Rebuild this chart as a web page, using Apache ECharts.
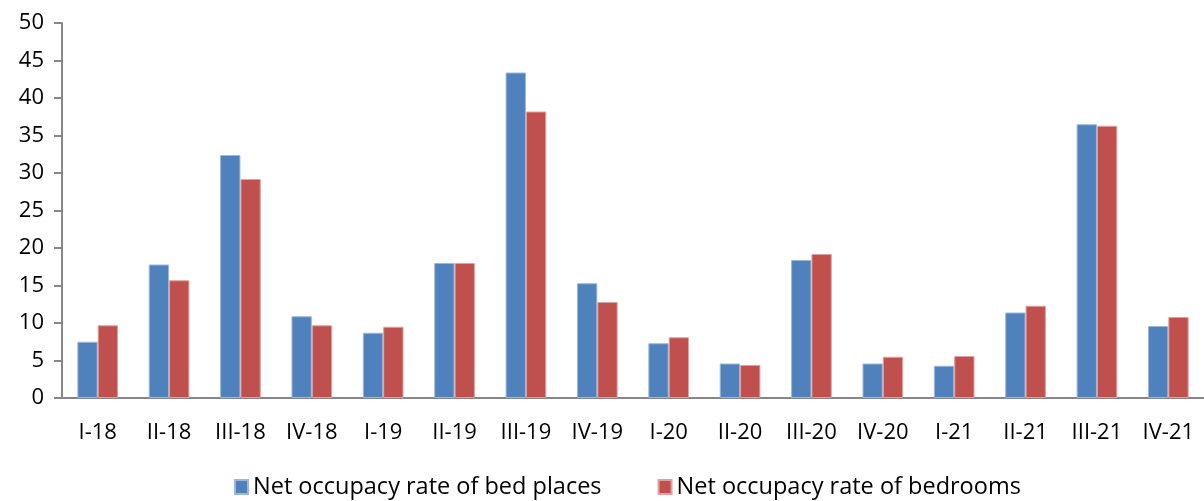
<!DOCTYPE html>
<html>
<head>
<meta charset="utf-8">
<script src="https://cdn.jsdelivr.net/npm/echarts@6/dist/echarts.min.js"></script>
<style>
  html, body { margin: 0; padding: 0; background: #fff; }
  #main { width: 1204px; height: 501px; }
</style>
</head>
<body>
<div id="main"></div>
<script>
let quarters = ['I-18', 'II-18', 'III-18', 'IV-18', 'I-19', 'II-19', 'III-19', 'IV-19',
    'I-20', 'II-20', 'III-20', 'IV-20', 'I-21', 'II-21', 'III-21', 'IV-21'];
let bedPlaces = [7.5, 17.8, 32.4, 10.9, 8.7, 18.0, 43.4, 15.3, 7.3, 4.6, 18.4, 4.6, 4.3, 11.4, 36.5, 9.6];
let bedrooms = [9.7, 15.7, 29.2, 9.7, 9.5, 18.0, 38.2, 12.8, 8.1, 4.4, 19.2, 5.5, 5.6, 12.3, 36.3, 10.8];

let myChart = echarts.init(document.getElementById('main'));

let axisColor = '#868686';
let font = 'Open Sans';

let option = {
    animation: false,
    textStyle: { fontFamily: font },
    grid: { left: 62, right: -8, top: 23, bottom: 103 },
    legend: {
        bottom: -3,
        left: 229,
        itemWidth: 13,
        itemHeight: 14,
        itemGap: 56,
        icon: 'rect',
        textStyle: { fontSize: 23.5, color: '#000', fontFamily: font },
        data: ['Net occupacy rate of bed places', 'Net occupacy rate of bedrooms']
    },
    xAxis: {
        type: 'category',
        data: quarters,
        axisLine: { lineStyle: { color: axisColor, width: 2 } },
        axisTick: { length: 8, lineStyle: { color: axisColor, width: 2 } },
        axisLabel: { fontSize: 22, color: '#000', margin: 24, interval: 0 }
    },
    yAxis: {
        type: 'value',
        min: 0,
        max: 50,
        interval: 5,
        splitLine: { show: false },
        axisLine: { show: true, lineStyle: { color: axisColor, width: 2 } },
        axisTick: { show: true, length: 8, lineStyle: { color: axisColor, width: 2 } },
        axisLabel: { fontSize: 22, color: '#000', margin: 18 }
    },
    series: [
        {
            name: 'Net occupacy rate of bed places',
            type: 'bar',
            data: bedPlaces,
            barGap: '0%',
            barCategoryGap: '43%',
            itemStyle: { color: '#4F81BD', borderColor: '#9DB7DA', borderWidth: 1 }
        },
        {
            name: 'Net occupacy rate of bedrooms',
            type: 'bar',
            data: bedrooms,
            barGap: '0%',
            barCategoryGap: '43%',
            itemStyle: { color: '#C0504D', borderColor: '#DDA2A0', borderWidth: 1 }
        }
    ]
};

myChart.setOption(option);
</script>
</body>
</html>
